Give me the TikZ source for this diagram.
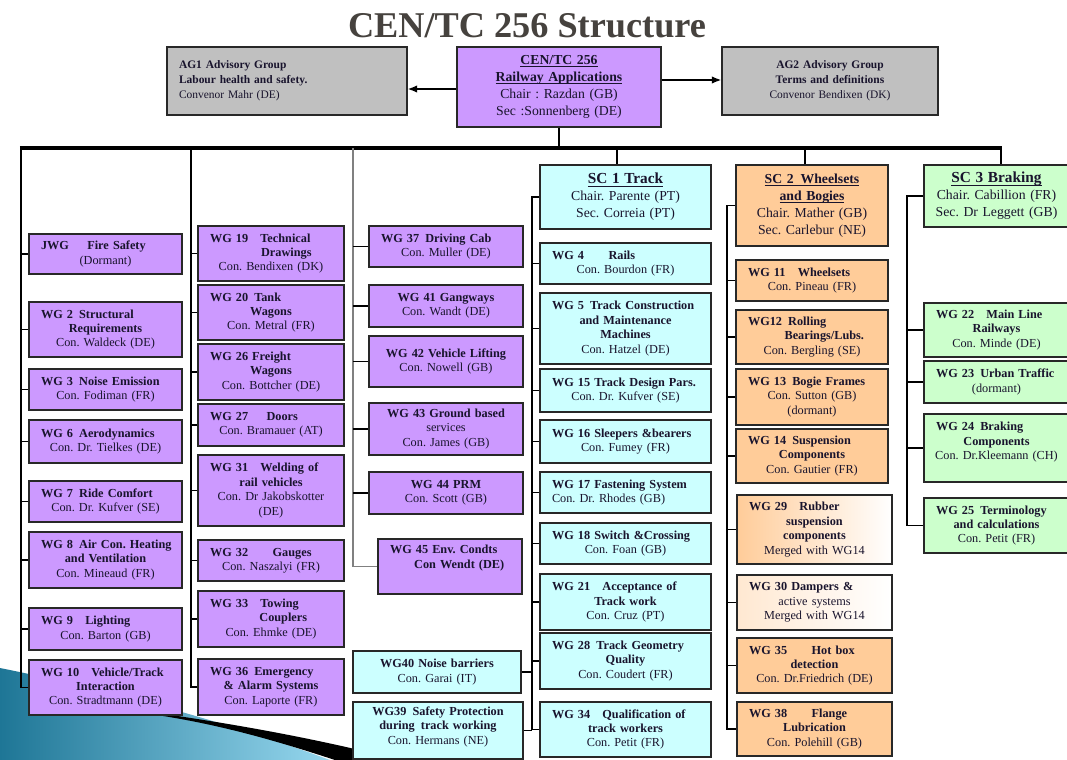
\documentclass[tikz,border=0pt]{standalone}
\usepackage{fontspec}
\setmainfont{Liberation Serif}
\usetikzlibrary{arrows.meta}
\definecolor{purp}{RGB}{204,153,255}
\definecolor{cyanb}{RGB}{204,255,255}
\definecolor{orab}{RGB}{255,204,153}
\definecolor{grnb}{RGB}{204,255,204}
\definecolor{agray}{RGB}{192,192,192}
\definecolor{txt}{RGB}{25,20,45}
\definecolor{edgec}{RGB}{40,40,40}
\definecolor{titlec}{RGB}{70,66,62}
\definecolor{swA}{RGB}{30,118,150}
\definecolor{swB}{RGB}{150,215,238}
\newcommand\wgfont{\fontsize{9.2}{10.8}\selectfont}
\newcommand\scfont{\fontsize{10.3}{12.7}\selectfont}
\newcommand\agfont{\fontsize{8.6}{11.4}\selectfont}
\newcommand\firstl[1]{\makebox[\linewidth][l]{\hspace*{6pt}#1}}
\newsavebox\ulnbox
\newcommand\uln[1]{\sbox\ulnbox{#1}\leavevmode\rlap{\rule[-1.8pt]{\wd\ulnbox}{0.6pt}}\usebox\ulnbox}
\newcommand\wgbox[7]{%
  \pgfmathsetlengthmacro\wgbw{(#4-#2)*0.75}%
  \pgfmathsetlengthmacro\wgbh{(#5-#3)*0.75}%
  \pgfmathsetlengthmacro\wgbt{(#4-#2)*0.75-6}%
  \node[#6, minimum width=\wgbw, minimum height=\wgbh, text width=\wgbt] (#1) at ({(#2+#4)/2},{(#3+#5)/2}) {#7};}
\tikzset{
  box/.style={draw=edgec, line width=1.1pt, inner sep=0pt, align=center, font=\wgfont, text=txt},
  pbox/.style={box, fill=purp},
  cbox/.style={box, fill=cyanb},
  obox/.style={box, fill=orab},
  gbox/.style={box, fill=grnb},
  fadebox/.style={box, left color=orab, right color=white},
  fadebox2/.style={box, left color=orab!45!white, right color=white},
  scbox/.style={font=\scfont},
  agbox/.style={box, fill=agray, font=\agfont},
  conn/.style={draw=black, line width=1pt},
  grayconn/.style={draw=gray, line width=1.3pt},
  barline/.style={draw=black, line width=2.3pt},
  trunk/.style={draw=black, line width=1.9pt},
  arr/.style={draw=black, line width=1pt, -{Latex[length=7pt,width=5.5pt]}},
}
\begin{document}
\frenchspacing
\begin{tikzpicture}[x=0.75pt, y=-0.75pt]
\useasboundingbox (0,0) rectangle (1067,760);
\fill[white] (0,0) rectangle (1067,760);
% slide swoosh decoration
\shade[left color=swA, right color=swB] (0,668) .. controls (70,682) and (200,712) .. (330,760) -- (0,760) -- cycle;
\fill[black] (150,712) .. controls (250,726) and (330,742) .. (400,760) -- (335,760) .. controls (280,742) and (220,724) .. (150,714) -- cycle;
% title
\node[font=\fontsize{27.2}{30}\selectfont\bfseries, text=titlec, anchor=base, inner sep=0pt] (title) at (527,37) {CEN/TC 256 Structure};
% top row
\wgbox{ag1}{167}{47}{407}{115}{agbox}{\firstl{\textbf{AG1 Advisory Group}}\\\firstl{\textbf{Labour health and safety.}}\\\firstl{Convenor Mahr (DE)}}
\wgbox{cen}{457}{47}{661}{127}{pbox, scbox}{\uln{\textbf{CEN/TC 256}}\\\uln{\textbf{Railway Applications}}\\Chair : Razdan (GB)\\Sec :Sonnenberg (DE)}
\wgbox{ag2}{722}{47}{938}{115}{agbox}{\textbf{AG2 Advisory Group}\\\textbf{Terms and definitions}\\Convenor Bendixen (DK)}
% column 1
\wgbox{jwg}{29}{234}{182}{274}{pbox}{\firstl{\textbf{JWG\quad\enspace Fire Safety}}\\(Dormant)}
\wgbox{wg2}{29}{302}{182}{357}{pbox}{\firstl{\textbf{WG 2\enspace Structural}}\\\textbf{Requirements}\\Con. Waldeck (DE)}
\wgbox{wg3}{29}{369}{182}{410}{pbox}{\firstl{\textbf{WG 3\enspace Noise Emission}}\\Con. Fodiman (FR)}
\wgbox{wg6}{29}{420}{182}{463}{pbox}{\firstl{\textbf{WG 6\enspace Aerodynamics}}\\Con. Dr. Tielkes (DE)}
\wgbox{wg7}{29}{481}{182}{522}{pbox}{\firstl{\textbf{WG 7\enspace Ride Comfort}}\\Con. Dr. Kufver (SE)}
\wgbox{wg8}{29}{532}{182}{588}{pbox}{\firstl{\textbf{WG 8\enspace Air Con. Heating}}\\\textbf{and Ventilation}\\Con. Mineaud (FR)}
\wgbox{wg9}{29}{608}{182}{650}{pbox}{\firstl{\textbf{WG 9\quad Lighting}}\\Con. Barton (GB)}
\wgbox{wg10}{29}{660}{182}{715}{pbox}{\firstl{\textbf{WG 10\quad Vehicle/Track}}\\\textbf{Interaction}\\Con. Stradtmann (DE)}
% column 2
\wgbox{wg19}{198}{226}{344}{281}{pbox}{\firstl{\textbf{WG 19\quad Technical}}\\\hspace*{2.5em}\textbf{Drawings}\\Con. Bendixen (DK)}
\wgbox{wg20}{198}{285}{344}{340}{pbox}{\firstl{\textbf{WG 20\enspace Tank}}\\\textbf{Wagons}\\Con. Metral (FR)}
\wgbox{wg26}{198}{344}{344}{400}{pbox}{\firstl{\textbf{WG 26 Freight}}\\\textbf{Wagons}\\Con. Bottcher (DE)}
\wgbox{wg27}{198}{404}{344}{446}{pbox}{\firstl{\textbf{WG 27\quad\enspace Doors}}\\Con. Bramauer (AT)}
\wgbox{wg31}{198}{455}{344}{526}{pbox}{\firstl{\textbf{WG 31\quad Welding of}}\\\textbf{rail vehicles}\\Con. Dr Jakobskotter\\(DE)}
\wgbox{wg32}{198}{540}{344}{581}{pbox}{\firstl{\textbf{WG 32\qquad Gauges}}\\Con. Naszalyi (FR)}
\wgbox{wg33}{198}{591}{344}{647}{pbox}{\firstl{\textbf{WG 33\quad Towing}}\\\hspace*{2em}\textbf{Couplers}\\Con. Ehmke (DE)}
\wgbox{wg36}{198}{659}{344}{715}{pbox}{\firstl{\textbf{WG 36\enspace Emergency}}\\\textbf{\& Alarm Systems}\\Con. Laporte (FR)}
% column 3
\wgbox{wg37}{369}{226}{523}{267}{pbox}{\firstl{\textbf{WG 37\enspace Driving Cab}}\\Con. Muller (DE)}
\wgbox{wg41}{369}{285}{523}{327}{pbox}{\textbf{WG 41 Gangways}\\Con. Wandt (DE)}
\wgbox{wg42}{369}{336}{523}{387}{pbox}{\textbf{WG 42 Vehicle Lifting}\\Con. Nowell (GB)}
\wgbox{wg43}{369}{403}{523}{455}{pbox}{\textbf{WG 43 Ground based}\\services\\Con. James (GB)}
\wgbox{wg44}{369}{472}{523}{514}{pbox}{\textbf{WG 44 PRM}\\Con. Scott (GB)}
\wgbox{wg45}{378}{539}{522}{594}{pbox}{\firstl{\textbf{WG 45 Env. Condts}}\\\hspace*{1.5em}\textbf{Con Wendt (DE)}\\[4pt]\mbox{}}
% SC1
\wgbox{sc1}{540}{165}{711}{229}{cbox, scbox}{\uln{\textbf{\fontsize{11.5}{13}\selectfont SC 1 Track}}\\Chair. Parente (PT)\\Sec. Correia (PT)}
\wgbox{wg4}{540}{243}{711}{284}{cbox}{\firstl{\textbf{WG 4\qquad Rails}}\\Con. Bourdon (FR)}
\wgbox{wg5}{540}{293}{711}{364}{cbox}{\firstl{\textbf{WG 5\enspace Track Construction}}\\\textbf{and Maintenance}\\\textbf{Machines}\\Con. Hatzel (DE)}
\wgbox{wg15}{540}{369}{711}{412}{cbox}{\firstl{\textbf{WG 15 Track Design Pars.}}\\Con. Dr. Kufver (SE)}
\wgbox{wg16}{540}{420}{711}{463}{cbox}{\firstl{\textbf{WG 16 Sleepers \&bearers}}\\Con. Fumey (FR)}
\wgbox{wg17}{540}{472}{711}{513}{cbox}{\firstl{\textbf{WG 17 Fastening System}}\\\firstl{Con. Dr. Rhodes (GB)}}
\wgbox{wg18}{540}{523}{711}{564}{cbox}{\firstl{\textbf{WG 18 Switch \&Crossing}}\\Con. Foan (GB)}
\wgbox{wg21}{540}{574}{711}{630}{cbox}{\firstl{\textbf{WG 21\quad Acceptance of}}\\\textbf{Track work}\\Con. Cruz (PT)}
\wgbox{wg28}{540}{633}{711}{689}{cbox}{\firstl{\textbf{WG 28\enspace Track Geometry}}\\\textbf{Quality}\\Con. Coudert (FR)}
\wgbox{wg34}{540}{702}{711}{757}{cbox}{\firstl{\textbf{WG 34\quad Qualification of}}\\\textbf{track workers}\\Con. Petit (FR)}
\wgbox{wg40}{353}{651}{521}{693}{cbox}{\textbf{WG40 Noise barriers}\\Con. Garai (IT)}
\wgbox{wg39}{353}{702}{523}{759}{cbox}{\textbf{WG39\enspace Safety Protection}\\\textbf{during\enspace track working}\\Con. Hermans (NE)\\[-3pt]\mbox{}}
% SC2
\wgbox{sc2}{736}{165}{888}{246}{obox, scbox}{\uln{\textbf{SC 2\enspace Wheelsets}}\\\uln{\textbf{and Bogies}}\\Chair. Mather (GB)\\Sec. Carlebur (NE)}
\wgbox{wg11}{736}{260}{888}{301}{obox}{\firstl{\textbf{WG 11\quad Wheelsets}}\\Con. Pineau (FR)}
\wgbox{wg12}{736}{310}{888}{364}{obox}{\firstl{\textbf{WG12\enspace Rolling}}\\\hspace*{2em}\textbf{Bearings/Lubs.}\\Con. Bergling (SE)}
\wgbox{wg13}{736}{369}{888}{425}{obox}{\firstl{\textbf{WG 13\enspace Bogie Frames}}\\Con. Sutton (GB)\\(dormant)}
\wgbox{wg14}{736}{429}{888}{483}{obox}{\firstl{\textbf{WG 14\enspace Suspension}}\\\textbf{Components}\\Con. Gautier (FR)}
\wgbox{wg29}{737}{495}{892}{564}{fadebox}{\firstl{\textbf{WG 29\quad Rubber}}\\\textbf{suspension}\\\textbf{components}\\Merged with WG14}
\wgbox{wg30}{737}{575}{892}{630}{fadebox2}{\firstl{\textbf{WG 30 Dampers \&}}\\active systems\\Merged with WG14}
\wgbox{wg35}{737}{638}{892}{693}{obox}{\firstl{\textbf{WG 35\qquad Hot box}}\\\textbf{detection}\\Con. Dr.Friedrich (DE)}
\wgbox{wg38}{737}{702}{892}{756}{obox}{\firstl{\textbf{WG 38\qquad Flange}}\\\textbf{Lubrication}\\Con. Polehill (GB)}
% SC3
\wgbox{sc3}{924}{165}{1069}{227}{gbox, scbox}{\uln{\textbf{\fontsize{11.5}{13}\selectfont SC 3 Braking}}\\Chair. Cabillion (FR)\\Sec. Dr Leggett (GB)}
\wgbox{wg22}{924}{303}{1069}{357}{gbox}{\firstl{\textbf{WG 22\quad Main Line}}\\\textbf{Railways}\\Con. Minde (DE)}
\wgbox{wg23}{924}{361}{1069}{403}{gbox}{\firstl{\textbf{WG 23\enspace Urban Traffic}}\\(dormant)}
\wgbox{wg24}{924}{414}{1069}{482}{gbox}{\firstl{\textbf{WG 24\enspace Braking}}\\\textbf{Components}\\Con. Dr.Kleemann (CH)\\\mbox{}}
\wgbox{wg25}{924}{498}{1069}{553}{gbox}{\firstl{\textbf{WG 25\enspace Terminology}}\\\textbf{and calculations}\\Con. Petit (FR)}
% connectors: top
\coordinate (ya1) at (0,89);
\coordinate (ya2) at (0,80);
\draw[arr] (cen.west |- ya1) -- (ag1.east |- ya1);
\draw[arr] (cen.east |- ya2) -- (ag2.west |- ya2);
\coordinate (barL) at (21,148);
\coordinate (barR) at (1001,148);
\draw[trunk] (cen.south) -- (cen.south |- barL);
\draw[barline] ([xshift=-0.8pt]barL) -- ([xshift=0.8pt]barR);
% column 1
\draw[conn] (barL) |- (wg10.west);
\foreach \n in {jwg,wg2,wg3,wg6,wg7,wg8,wg9} \draw[conn] (barL |- \n.west) -- (\n.west);
% column 2
\coordinate (c2) at (191,148);
\draw[conn] (c2) |- (wg36.west);
\foreach \n in {wg19,wg20,wg26,wg27,wg31,wg32,wg33} \draw[conn] (c2 |- \n.west) -- (\n.west);
% column 3
\coordinate (c3) at (353,148);
\draw[grayconn] (c3) |- (wg45.west);
\foreach \n in {wg37,wg41,wg42,wg43,wg44} \draw[conn] (c3 |- \n.west) -- (\n.west);
% SC1
\coordinate (s1) at (617,148);
\draw[trunk] (s1) -- (s1 |- sc1.north);
\coordinate (k1) at (532,0);
\draw[conn] (sc1.west) -- (sc1.west -| k1) -- (k1 |- wg34.west) -- (wg34.west);
\foreach \n in {wg4,wg5,wg15,wg16,wg17,wg18,wg21,wg28} \draw[conn] (k1 |- \n.west) -- (\n.west);
\draw[conn] (wg40.east) -- (wg40.east -| k1);
\draw[conn] (wg39.east) -- (wg39.east -| k1);
% SC2
\coordinate (s2) at (805,148);
\draw[trunk] (s2) -- (s2 |- sc2.north);
\coordinate (k2) at (727,0);
\draw[conn] (sc2.west) -- (sc2.west -| k2) -- (k2 |- wg38.west) -- (wg38.west);
\foreach \n in {wg11,wg12,wg13,wg14,wg29,wg30,wg35} \draw[conn] (k2 |- \n.west) -- (\n.west);
% SC3
\draw[trunk] (barR) -- (barR |- sc3.north);
\coordinate (k3) at (907,0);
\draw[conn] (sc3.west) -- (sc3.west -| k3) -- (k3 |- wg25.west) -- (wg25.west);
\foreach \n in {wg22,wg23,wg24} \draw[conn] (k3 |- \n.west) -- (\n.west);
\end{tikzpicture}
\end{document}
